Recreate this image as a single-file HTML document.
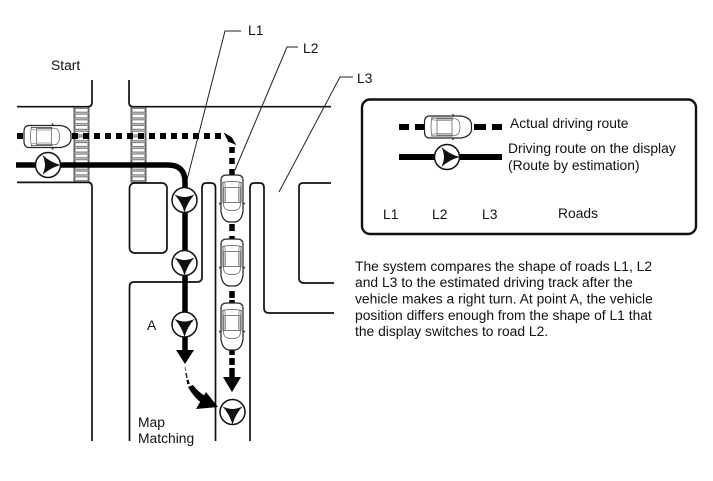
<!DOCTYPE html>
<html><head><meta charset="utf-8"><style>
html,body{margin:0;padding:0;background:#fff}
svg{display:block}
text{font-family:"Liberation Sans",Arial,sans-serif;font-size:13.85px;fill:#111}
.r{fill:none;stroke:#111;stroke-width:1.7}
.l{fill:none;stroke:#222;stroke-width:1}
</style></head><body>
<svg width="713" height="481" viewBox="0 0 713 481" xmlns="http://www.w3.org/2000/svg">
<defs>
<pattern id="cw1" width="15" height="5.7" patternUnits="userSpaceOnUse" x="74" y="107.5">
<rect x="1" y="1" width="13" height="3.6" fill="#fff" stroke="#666" stroke-width=".8"/>
</pattern>
<pattern id="cw2" width="15" height="5.7" patternUnits="userSpaceOnUse" x="131" y="107.5">
<rect x="1" y="1" width="13" height="3.6" fill="#fff" stroke="#666" stroke-width=".8"/>
</pattern>
<g id="car">
<path d="M4.5,-13 L6,-11 M4.5,13 L6,11" stroke="#333" stroke-width="1.2" fill="none"/>
<path d="M-19,-11 Q-23.5,-10.5 -23.5,-5 L-23.5,5 Q-23.5,10.5 -19,11 L13,11 Q22.5,9.5 23.5,3 L23.5,-3 Q22.5,-9.5 13,-11 Z" fill="#fff" stroke="#222" stroke-width="1.2"/>
<path d="M-16,-10 Q-18,0 -16,10 M-11,-8 L4,-8 L4,8 L-11,8 Z M4,-8 Q12,-10 12,0 Q12,10 4,8" fill="none" stroke="#555" stroke-width=".7"/>
<path d="M-16,-7.5 L-11,-6.5 L4,-6.5 M-16,7.5 L-11,6.5 L4,6.5" fill="none" stroke="#888" stroke-width=".8"/>
<path d="M-16,-9 L5,-9 M-16,9 L5,9" stroke="#666" stroke-width="1" fill="none"/>
</g>
<g id="dot">
<circle r="12.5" fill="#fff" stroke="#111" stroke-width="1.5"/>
<path d="M-10,-5.5 Q-4,-3 0,-3 Q4,-3 10,-5.5 Q3,2 0,12.5 Q-3,2 -10,-5.5Z" fill="#111"/>
</g>
</defs>

<!-- crosswalks -->
<rect x="74" y="107.5" width="15" height="74" fill="#c4c4c4"/>
<rect x="74" y="107.5" width="15" height="74" fill="url(#cw1)"/>
<rect x="74" y="107" width="15" height="75" fill="none" stroke="#444" stroke-width=".9"/>
<rect x="131" y="107.5" width="15" height="74" fill="#c4c4c4"/>
<rect x="131" y="107.5" width="15" height="74" fill="url(#cw2)"/>
<rect x="131" y="107" width="15" height="75" fill="none" stroke="#444" stroke-width=".9"/>
<!-- roads -->
<path class="r" d="M17,106.7 L88,106.7 Q92,106.7 92,102 L92,80"/>
<path class="r" d="M331,106.7 L133,106.7 Q129,106.7 129,102 L129,80"/>
<path class="r" d="M17,182.4 L88,182.4 Q92,182.4 92,187 L92,441"/>
<rect class="r" x="129.5" y="183" width="37.5" height="70" rx="5"/>
<path class="r" d="M129.5,441 L129.5,287 Q129.5,282 134,282 L197,282 Q202,282 202,277 L202,188 Q202,183 206,183 L211,183 Q215.5,183 215.5,188 L215.5,441"/>
<path class="r" d="M250,441 L250,188 Q250,183 254,183 L260,183 Q264,183 264,188 L264,308 Q264,313 269,313 L334,313"/>
<path class="r" d="M331,183 L303,183 Q299,183 299,187 L299,278 Q299,283 304,283 L334,283"/>
<!-- leaders -->
<path class="l" d="M241,31 L225,31 L187,180"/>
<path class="l" d="M298,47 L287,47 L235,170"/>
<path class="l" d="M353,77 L340,77 L279,192"/>

<!-- actual route -->
<path d="M16,136 L225,136" fill="none" stroke="#000" stroke-width="6" stroke-dasharray="6 5" stroke-dashoffset="-1"/>
<path d="M226,135 L231,138 L234,143 L229,141 Z" fill="#000" stroke="#000" stroke-width="2"/>
<path d="M232,147 L232,177" fill="none" stroke="#000" stroke-width="5.5" stroke-dasharray="6 5"/>
<path d="M232,224 L232,231 M232,236 L232,240 M232,291 L232,298 M232,300 L232,304" fill="none" stroke="#000" stroke-width="5.5"/>
<path d="M232,350 L232,355 M232,358 L232,365 M232,368 L232,378" fill="none" stroke="#000" stroke-width="5.5"/>
<path d="M223,377 L241,377 L232,392 Z" fill="#000"/>
<use href="#car" transform="translate(47.5,136.5)"/>
<use href="#car" transform="translate(232,198.5) rotate(90)"/>
<use href="#car" transform="translate(232,262.5) rotate(90)"/>
<use href="#car" transform="translate(232,326.5) rotate(90)"/>

<!-- estimated route -->
<path d="M16,165 L168,165 Q185,165 185,182 L185,351" fill="none" stroke="#000" stroke-width="5.5"/>
<path d="M176,350 L194,350 L185,364 Z" fill="#000"/>
<use href="#dot" transform="translate(48,165) rotate(-90)"/>
<use href="#dot" transform="translate(184.5,200)"/>
<use href="#dot" transform="translate(184.5,263)"/>
<use href="#dot" transform="translate(184.5,324.5)"/>

<!-- map matching arrow -->
<path d="M185,367 L185.5,371" stroke="#666" stroke-width="1" fill="none"/>
<path d="M186,373 L187,378" stroke="#333" stroke-width="1.6" fill="none"/>
<path d="M187.5,380 L188.5,384" stroke="#000" stroke-width="2.4" fill="none"/>
<path d="M188,387 L193,385 Q198,392 208,398 L203,404 Q194,398 188,387Z" fill="#000"/>
<path d="M218,407 L196,409 L206,392 Z" fill="#000"/>
<use href="#dot" transform="translate(232.5,412)"/>

<!-- legend -->
<rect x="362" y="99.5" width="334" height="134.5" rx="8" fill="none" stroke="#111" stroke-width="2.4"/>
<path d="M399,127 L409,127 M415,127 L425,127 M474,127 L486,127 M492,127 L502,127" stroke="#000" stroke-width="6" fill="none"/>
<use href="#car" transform="translate(448,127)"/>
<path d="M399,157 L502,157" stroke="#000" stroke-width="6" fill="none"/>
<use href="#dot" transform="translate(447,157) rotate(-90)"/>

<!-- labels -->
<text x="248" y="35">L1</text>
<text x="303" y="53">L2</text>
<text x="357" y="83">L3</text>
<text x="51" y="70">Start</text>
<text x="147" y="330">A</text>
<text x="138" y="427">Map</text>
<text x="138" y="443">Matching</text>
<text x="510" y="128">Actual driving route</text>
<text x="508" y="153">Driving route on the display</text>
<text x="508" y="170">(Route by estimation)</text>
<text x="383" y="219">L1</text>
<text x="432" y="219">L2</text>
<text x="482" y="219">L3</text>
<text x="558" y="218">Roads</text>
<text x="355" y="271">The system compares the shape of roads L1, L2</text>
<text x="355" y="287">and L3 to the estimated driving track after the</text>
<text x="355" y="303.5">vehicle makes a right turn. At point A, the vehicle</text>
<text x="355" y="320">position differs enough from the shape of L1 that</text>
<text x="355" y="336">the display switches to road L2.</text>
</svg>
</body></html>
